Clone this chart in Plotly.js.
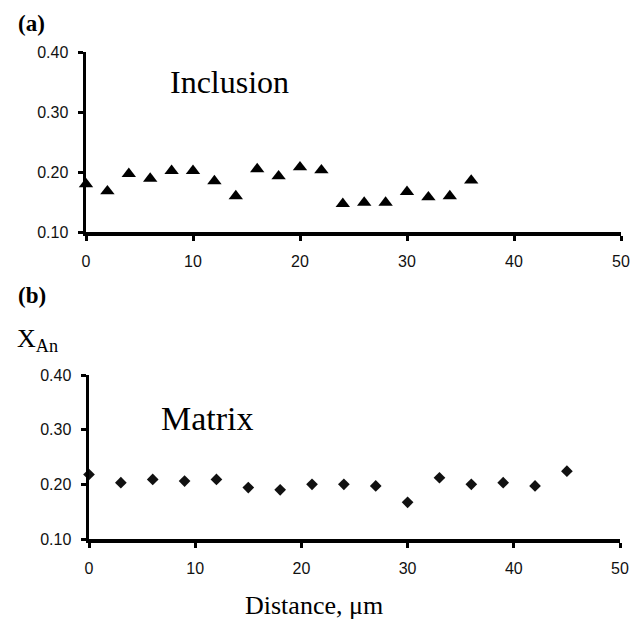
<!DOCTYPE html>
<html>
<head>
<meta charset="utf-8">
<script src="https://cdn.plot.ly/plotly-3.0.1.min.js"></script>
<style>html,body{margin:0;padding:0;background:#fff;}#chart{width:639px;height:619px;}</style>
</head>
<body>
<div id="chart"></div>
<script>
const inclusionDistance = [0, 2, 4, 6, 8, 10, 12, 14, 16, 18, 20, 22, 24, 26, 28, 30, 32, 34, 36];
const inclusionXAn = [0.180, 0.168, 0.197, 0.189, 0.202, 0.202, 0.185, 0.160, 0.205, 0.193, 0.208, 0.203, 0.147, 0.149, 0.149, 0.167, 0.158, 0.160, 0.186];
const matrixDistance = [0, 3, 6, 9, 12, 15, 18, 21, 24, 27, 30, 33, 36, 39, 42, 45];
const matrixXAn = [0.218, 0.203, 0.209, 0.206, 0.209, 0.194, 0.190, 0.200, 0.200, 0.197, 0.167, 0.212, 0.200, 0.203, 0.197, 0.224];
const xTicks = [0, 10, 20, 30, 40, 50];
const yTicks = [0.10, 0.20, 0.30, 0.40];
const yTickLabels = ["0.10", "0.20", "0.30", "0.40"];

const W = 639, H = 619;
const px = v => v / W;
const py = v => 1 - v / H;

const tickFont = {family: "Liberation Sans, Arial, sans-serif", size: 16, color: "#111"};
const serif = "Liberation Serif, Times New Roman, serif";

function xAxis(d) {
  return {
    domain: d, range: [0, 50], tickvals: xTicks, ticktext: xTicks.map(String),
    showgrid: false, zeroline: false, showline: true, linewidth: 3.5, linecolor: "#000",
    ticks: "outside", ticklen: 5, tickwidth: 3, tickcolor: "#000",
    tickfont: tickFont, ticklabelstandoff: 7, fixedrange: true
  };
}
function yAxis(d) {
  return {
    domain: d, range: [0.1, 0.4], tickvals: yTicks, ticktext: yTickLabels,
    showgrid: false, zeroline: false, showline: true, linewidth: 3.5, linecolor: "#000",
    ticks: "outside", ticklen: 5, tickwidth: 3, tickcolor: "#000",
    tickfont: tickFont, ticklabelstandoff: 6, fixedrange: true
  };
}

const data = [
  {x: inclusionDistance, y: inclusionXAn, type: "scatter", mode: "markers", xaxis: "x", yaxis: "y",
   marker: {symbol: "triangle-up", size: 12.5, color: "#000"}, cliponaxis: false, hoverinfo: "skip"},
  {x: matrixDistance, y: matrixXAn, type: "scatter", mode: "markers", xaxis: "x2", yaxis: "y2",
   marker: {symbol: "diamond", size: 9, color: "#111"}, cliponaxis: false, hoverinfo: "skip"}
];

const layout = {
  width: W, height: H, margin: {l: 0, r: 0, t: 0, b: 0},
  paper_bgcolor: "#fff", plot_bgcolor: "#fff", showlegend: false,
  xaxis: xAxis([px(86), px(621)]),
  yaxis: yAxis([py(232), py(52)]),
  xaxis2: Object.assign(xAxis([px(89), px(620)]), {anchor: "y2"}),
  yaxis2: Object.assign(yAxis([py(539), py(375)]), {anchor: "x2"}),
  annotations: [
    {text: "<b>(a)</b>", xref: "paper", yref: "paper", x: px(16), y: py(23), xanchor: "left", yanchor: "middle",
     showarrow: false, font: {family: serif, size: 23, color: "#000"}},
    {text: "<b>(b)</b>", xref: "paper", yref: "paper", x: px(16), y: py(295), xanchor: "left", yanchor: "middle",
     showarrow: false, font: {family: serif, size: 23, color: "#000"}},
    {text: "X<sub>An</sub>", xref: "paper", yref: "paper", x: px(15), y: py(340), xanchor: "left", yanchor: "middle",
     showarrow: false, font: {family: serif, size: 26, color: "#000"}},
    {text: "Inclusion", xref: "paper", yref: "paper", x: px(229), y: py(82), xanchor: "center", yanchor: "middle",
     showarrow: false, font: {family: serif, size: 32, color: "#000"}},
    {text: "Matrix", xref: "paper", yref: "paper", x: px(207), y: py(418), xanchor: "center", yanchor: "middle",
     showarrow: false, font: {family: serif, size: 34, color: "#000"}},
    {text: "Distance, μm", xref: "paper", yref: "paper", x: px(314), y: py(605), xanchor: "center", yanchor: "middle",
     showarrow: false, font: {family: serif, size: 26, color: "#000"}}
  ]
};

Plotly.newPlot("chart", data, layout, {displayModeBar: false, staticPlot: true});
</script>
</body>
</html>
